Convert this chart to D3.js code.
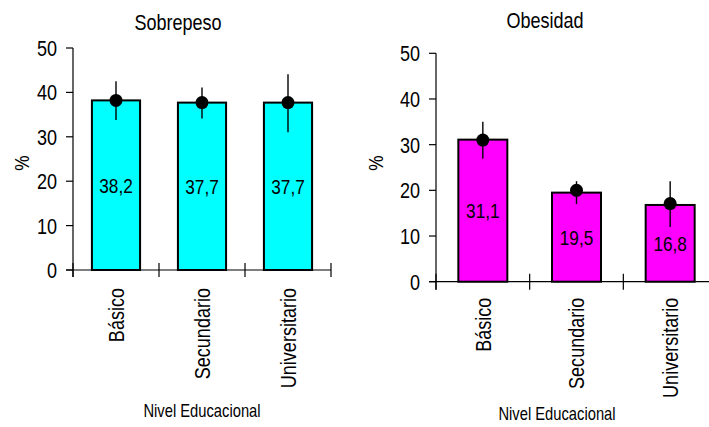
<!DOCTYPE html>
<html>
<head>
<meta charset="utf-8">
<script src="https://cdn.jsdelivr.net/npm/d3@7"></script>
<style>
  body { margin: 0; background: #fff; }
  svg { display: block; }
</style>
</head>
<body>
<svg id="chart" width="709" height="427"></svg>
<script>
// datos
const niveles = ["Básico", "Secundario", "Universitario"];
const ticksY = [0, 10, 20, 30, 40, 50];

const sobrepeso = [38.2, 37.7, 37.7];
const sobrepesoPunto = [38.2, 37.7, 37.7];
const sobrepesoBajo = [33.8, 34.1, 31.0];
const sobrepesoAlto = [42.5, 41.1, 44.1];

const obesidad = [31.1, 19.5, 16.8];
const obesidadPunto = [31.0, 20.0, 17.1];
const obesidadBajo = [26.9, 17.0, 12.0];
const obesidadAlto = [35.0, 22.0, 22.0];

const FONT = "'Liberation Sans', Arial, sans-serif";
const NARROW = 0.82; // no hay Arial Narrow, se estrecha a mano
const svg = d3.select("#chart");

// posición + rotación + estrechado horizontal del texto
const place = (x, y, rot = 0) =>
  `translate(${x},${y})` + (rot ? ` rotate(${rot})` : "") + ` scale(${NARROW},1)`;

const drawPanel = (p) => {
  const g = svg.append("g").attr("font-family", FONT).attr("fill", "#000");

  const y = d3.scaleLinear().domain([0, 50]).range([p.y0, p.y1]);
  const x = d3.scaleBand().domain(niveles).range([p.x0, p.x1])
    .paddingInner(p.pad).paddingOuter(p.pad / 2);
  const cx = (n) => x(n) + x.bandwidth() / 2;

  const rows = niveles.map((n, i) => ({
    n, v: p.valores[i], pt: p.punto[i], lo: p.bajo[i], hi: p.alto[i]
  }));

  // eje y
  g.append("line")
    .attr("x1", p.x0).attr("x2", p.x0)
    .attr("y1", y(50)).attr("y2", p.y0 + p.tick)
    .attr("stroke", "#000").attr("stroke-width", 1.2);
  g.selectAll(".ty").data(ticksY).join("line")
    .attr("x1", p.x0 - 7).attr("x2", p.x0)
    .attr("y1", (d) => y(d)).attr("y2", (d) => y(d))
    .attr("stroke", "#000").attr("stroke-width", 1.2);
  g.selectAll(".ly").data(ticksY).join("text")
    .attr("transform", (d) => place(p.x0 - 16, y(d)))
    .attr("dy", "0.36em").attr("text-anchor", "end")
    .attr("font-size", 22).text((d) => d);

  // eje x
  g.append("line")
    .attr("x1", p.x0 - 7).attr("x2", p.x1)
    .attr("y1", p.y0).attr("y2", p.y0)
    .attr("stroke", "#000").attr("stroke-width", 1.2);
  const bordes = niveles.map((n) => x(n) - x.step() * p.pad / 2).concat([p.x1]);
  g.selectAll(".tx").data(bordes).join("line")
    .attr("x1", (d) => d).attr("x2", (d) => d)
    .attr("y1", p.y0 - p.tick).attr("y2", p.y0 + p.tick)
    .attr("stroke", "#000").attr("stroke-width", 1.2);

  // barras
  g.selectAll(".bar").data(rows).join("rect")
    .attr("x", (d) => x(d.n)).attr("width", x.bandwidth())
    .attr("y", (d) => y(d.v)).attr("height", (d) => y(0) - y(d.v))
    .attr("fill", p.color).attr("stroke", "#000").attr("stroke-width", 2);

  // intervalos
  g.selectAll(".err").data(rows).join("line")
    .attr("x1", (d) => cx(d.n)).attr("x2", (d) => cx(d.n))
    .attr("y1", (d) => y(d.lo)).attr("y2", (d) => y(d.hi))
    .attr("stroke", "#000").attr("stroke-width", 1.4);
  g.selectAll(".pt").data(rows).join("circle")
    .attr("cx", (d) => cx(d.n)).attr("cy", (d) => y(d.pt))
    .attr("r", 6.5).attr("fill", "#000");

  // valores
  g.selectAll(".val").data(rows).join("text")
    .attr("transform", (d) => place(cx(d.n), y(d.v / 2)))
    .attr("dy", "0.36em").attr("text-anchor", "middle").attr("font-size", 21)
    .text((d) => String(d.v).replace(".", ","));

  // categorías
  g.selectAll(".cat").data(niveles).join("text")
    .attr("transform", (d) => place(cx(d), p.y0 + p.catGap, -90))
    .attr("dy", "0.36em").attr("text-anchor", "end")
    .attr("font-size", 22).text((d) => d);

  // títulos
  g.append("text")
    .attr("transform", place(p.tituloX, p.tituloY))
    .attr("text-anchor", "middle").attr("font-size", 22).text(p.titulo);
  g.append("text")
    .attr("transform", place(p.pctX, 163, -90))
    .attr("dy", "0.36em").attr("text-anchor", "middle")
    .attr("font-size", 21).text("%");
  g.append("text")
    .attr("transform", place(p.nivelX, p.nivelY))
    .attr("text-anchor", "middle").attr("font-size", 18).text("Nivel Educacional");
};

drawPanel({
  titulo: "Sobrepeso", color: "#00ffff",
  valores: sobrepeso, punto: sobrepesoPunto, bajo: sobrepesoBajo, alto: sobrepesoAlto,
  x0: 73, x1: 331, y0: 270, y1: 48, pad: 0.44, tick: 7, catGap: 18,
  tituloX: 178, tituloY: 30, pctX: 21, nivelX: 202, nivelY: 417
});

drawPanel({
  titulo: "Obesidad", color: "#ff00ff",
  valores: obesidad, punto: obesidadPunto, bajo: obesidadBajo, alto: obesidadAlto,
  x0: 436, x1: 717, y0: 281.7, y1: 53.3, pad: 0.477, tick: 8, catGap: 16,
  tituloX: 545, tituloY: 28, pctX: 375, nivelX: 557, nivelY: 420
});
</script>
</body>
</html>
